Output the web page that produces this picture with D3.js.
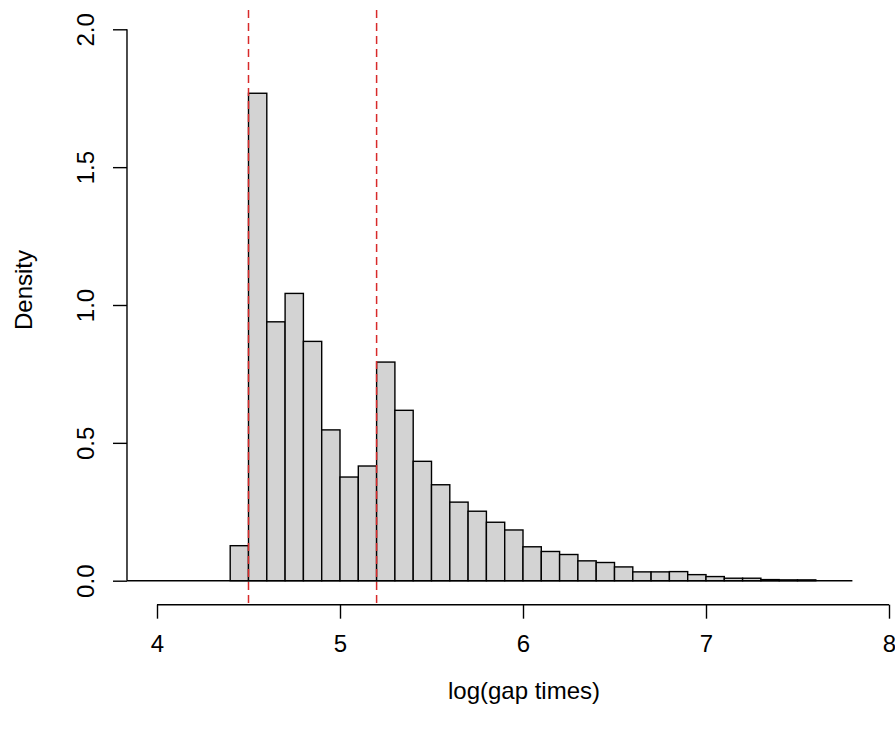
<!DOCTYPE html>
<html>
<head>
<meta charset="utf-8">
<script src="https://cdn.jsdelivr.net/npm/d3@7"></script>
<style>
  html, body { margin: 0; padding: 0; background: #fff; }
  svg { display: block; }
  text { font-family: "Liberation Sans", Arial, sans-serif; fill: #000; }
</style>
</head>
<body>
<svg id="chart" width="895" height="729"></svg>
<script>
// Histogram of log(gap times): left edges of 0.1-wide bins and their densities
const binStarts = [4.4, 4.5, 4.6, 4.7, 4.8, 4.9, 5.0, 5.1, 5.2, 5.3, 5.4, 5.5, 5.6, 5.7, 5.8, 5.9,
                   6.0, 6.1, 6.2, 6.3, 6.4, 6.5, 6.6, 6.7, 6.8, 6.9, 7.0, 7.1, 7.2, 7.3, 7.4, 7.5];
const binWidth = 0.1;
const densities = [0.127, 1.768, 0.939, 1.042, 0.868, 0.547, 0.376, 0.416, 0.793, 0.618, 0.433, 0.348,
                   0.285, 0.252, 0.212, 0.184, 0.123, 0.106, 0.095, 0.072, 0.066, 0.050, 0.032, 0.032,
                   0.033, 0.022, 0.015, 0.009, 0.009, 0.004, 0.003, 0.003];
const xTicks = [4, 5, 6, 7, 8];
const yTicks = [0, 0.5, 1.0, 1.5, 2.0];
const cutoffs = [4.5, 5.2];          // dashed reference lines
const xRegion = [3.836, 7.8];        // extent of the plotting region along x
const yRegion = [-0.087, 2.07];      // extent of the plotting region along y

const svg = d3.select("#chart");
const x = d3.scaleLinear().domain([4, 8]).range([157, 889]);
const y = d3.scaleLinear().domain([0, 2]).range([580.7, 29.3]);
const tickLen = 14;
const fontSize = "24px";

// bars
svg.append("g")
  .selectAll("rect")
  .data(binStarts.map((s, i) => ({ s, d: densities[i] })))
  .join("rect")
  .attr("x", d => x(d.s))
  .attr("width", d => x(d.s + binWidth) - x(d.s))
  .attr("y", d => y(d.d))
  .attr("height", d => y(0) - y(d.d))
  .attr("fill", "#d3d3d3")
  .attr("stroke", "#000")
  .attr("stroke-width", 1.4);

// zero line across the plotting region
svg.append("line")
  .attr("x1", x(xRegion[0])).attr("x2", x(xRegion[1]))
  .attr("y1", y(0)).attr("y2", y(0))
  .attr("stroke", "#000").attr("stroke-width", 1.4);

// dashed vertical reference lines
svg.append("g")
  .selectAll("line")
  .data(cutoffs)
  .join("line")
  .attr("x1", d => x(d)).attr("x2", d => x(d))
  .attr("y1", y(yRegion[1])).attr("y2", y(yRegion[0]))
  .attr("stroke", "#d82a2a")
  .attr("stroke-width", 1.5)
  .attr("stroke-dasharray", "8,5");

// y axis (left, rotated labels)
const yAxisX = x(xRegion[0]);
const yAxis = d3.axisLeft(y).tickValues(yTicks).tickSize(tickLen).tickPadding(0)
  .tickFormat(d3.format(".1f"));
const gy = svg.append("g").attr("transform", `translate(${yAxisX},0)`).call(yAxis);
gy.select(".domain").attr("d", `M-0,${y(0)}H0V${y(2)}H-0`).attr("stroke-width", 1.4);
gy.selectAll(".tick line").attr("stroke-width", 1.4);
gy.selectAll(".tick text")
  .attr("x", null).attr("dy", null)
  .attr("text-anchor", "middle")
  .attr("transform", `translate(${85 - yAxisX},0) rotate(-90)`)
  .attr("dominant-baseline", "central")
  .style("font-size", fontSize);

// x axis (below plotting region)
const xAxisY = y(yRegion[0]);
const xAxis = d3.axisBottom(x).tickValues(xTicks).tickSize(tickLen).tickPadding(0)
  .tickFormat(d3.format("d"));
const gx = svg.append("g").attr("transform", `translate(0,${xAxisY})`).call(xAxis);
gx.select(".domain").attr("d", `M${x(4)},0H${x(8)}`).attr("stroke-width", 1.4);
gx.selectAll(".tick line").attr("stroke-width", 1.4);
gx.selectAll(".tick text")
  .attr("y", 644 - xAxisY).attr("dy", null)
  .attr("dominant-baseline", "central")
  .style("font-size", fontSize);
svg.selectAll(".domain, .tick line").attr("stroke", "#000");
svg.selectAll(".tick text").attr("fill", "#000")
  .style("font-family", "'Liberation Sans', Arial, sans-serif");

// axis titles
svg.append("text")
  .attr("x", 524).attr("y", 690)
  .attr("text-anchor", "middle").attr("dominant-baseline", "central")
  .style("font-size", fontSize)
  .text("log(gap times)");
svg.append("text")
  .attr("transform", `translate(23,${y(1) - 15}) rotate(-90)`)
  .attr("text-anchor", "middle").attr("dominant-baseline", "central")
  .style("font-size", fontSize)
  .text("Density");
</script>
</body>
</html>
